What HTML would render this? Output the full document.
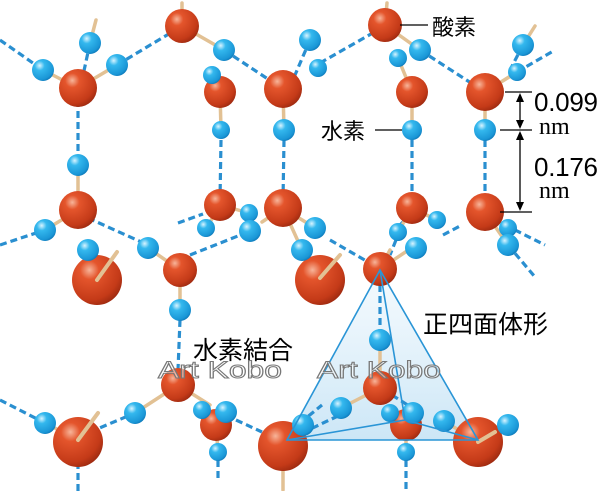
<!DOCTYPE html>
<html><head><meta charset="utf-8"><style>
html,body{margin:0;padding:0;background:#fff;}
svg{display:block;}
text{font-family:"Liberation Sans","Noto Sans CJK JP",sans-serif;}
</style></head><body>
<svg width="600" height="491" viewBox="0 0 600 491" xmlns="http://www.w3.org/2000/svg">
<defs>
<radialGradient id="r" cx="0.35" cy="0.3" r="0.75">
<stop offset="0" stop-color="#f7b59a"/><stop offset="0.25" stop-color="#e4552c"/><stop offset="0.8" stop-color="#c43a18"/><stop offset="1" stop-color="#9e2a10"/>
</radialGradient>
<radialGradient id="b" cx="0.35" cy="0.3" r="0.75">
<stop offset="0" stop-color="#d8f4ff"/><stop offset="0.3" stop-color="#34b8ee"/><stop offset="0.85" stop-color="#1a96d6"/><stop offset="1" stop-color="#0d78b8"/>
</radialGradient>
<linearGradient id="t" x1="0" y1="0" x2="0" y2="1">
<stop offset="0" stop-color="#eef7fd" stop-opacity="0.6"/><stop offset="1" stop-color="#bfe0f4" stop-opacity="0.8"/>
</linearGradient>
</defs>

<polygon points="380,270 287,440 478,440" fill="url(#t)"/>

<g stroke="#2a8fd0" stroke-width="3.2" stroke-dasharray="7,4" fill="none">
<path d="M0,40 L43,70"/>
<path d="M117,65 L182,26"/>
<path d="M224,50 L283,89"/>
<path d="M90,43 L82,80"/>
<path d="M78,100 L78,165"/>
<path d="M221,140 L220,200"/>
<path d="M284,140 L283,200"/>
<path d="M412,140 L412,200"/>
<path d="M485,140 L485,205"/>
<path d="M320,63 L378,30"/>
<path d="M420,50 L485,92"/>
<path d="M517,72 L555,50"/>
<path d="M523,45 L510,70"/>
<path d="M310,40 L295,75"/>
<path d="M0,245 L45,230"/>
<path d="M88,218 L148,245"/>
<path d="M178,223 L203,214"/>
<path d="M190,255 L248,232"/>
<path d="M330,240 L368,262"/>
<path d="M443,235 L460,226"/>
<path d="M495,220 L545,245"/>
<path d="M400,230 L390,255"/>
<path d="M420,205 L400,225"/>
<path d="M508,245 L535,277"/>
<path d="M180,320 L178,370"/>
<path d="M0,400 L45,423"/>
<path d="M90,432 L135,413"/>
<path d="M236,420 L262,432"/>
<path d="M218,460 L218,478"/>
<path d="M78,462 L78,491"/>
<path d="M406,460 L406,491"/>
<path d="M380,285 L380,330"/>
<path d="M300,423 L322,405"/>
<path d="M302,433 L340,415"/>
<path d="M392,395 L420,413"/>
</g>

<g stroke="#e2c194" stroke-width="3.5" stroke-linecap="round">
<path d="M90,43 L96,20"/><path d="M78,88 L43,70"/><path d="M78,88 L117,65"/>
<path d="M182,26 L224,50"/><path d="M182,26 L182,3"/><path d="M220,92 L212,75"/><path d="M220,92 L221,130"/>
<path d="M283,89 L284,130"/>
<path d="M385,25 L420,50"/><path d="M385,25 L387,3"/><path d="M412,92 L398,58"/><path d="M412,92 L412,130"/>
<path d="M485,92 L517,72"/><path d="M523,45 L535,26"/><path d="M485,92 L485,130"/>
<path d="M78,210 L78,165"/><path d="M78,210 L45,230"/><path d="M220,205 L206,229"/><path d="M220,205 L249,213"/>
<path d="M283,208 L315,228"/><path d="M283,208 L302,250"/><path d="M283,208 L262,222"/>
<path d="M412,208 L398,232"/><path d="M412,208 L437,220"/>
<path d="M485,212 L508,228"/><path d="M485,212 L508,245"/>
<path d="M180,270 L148,248"/><path d="M180,270 L180,310"/>
<path d="M380,269 L416,245"/><path d="M380,269 L390,250"/>
<path d="M78,440 L45,423"/>
<path d="M178,385 L135,413"/><path d="M178,385 L210,405"/><path d="M216,425 L226,412"/><path d="M216,425 L218,452"/>
<path d="M283,448 L283,490"/>
<path d="M380,388 L380,340"/><path d="M380,388 L341,408"/>
<path d="M406,425 L390,413"/><path d="M406,425 L413,413"/><path d="M406,425 L406,452"/>
<path d="M478,442 L508,425"/><path d="M478,442 L444,421"/>
</g>

<g fill="url(#r)">
<circle cx="182" cy="26" r="17"/><circle cx="78" cy="88" r="19"/><circle cx="220" cy="92" r="16"/><circle cx="283" cy="89" r="19"/>
<circle cx="78" cy="210" r="19"/><circle cx="220" cy="205" r="16"/><circle cx="283" cy="208" r="19"/>
<circle cx="385" cy="25" r="17"/><circle cx="412" cy="92" r="16"/><circle cx="485" cy="92" r="19"/>
<circle cx="412" cy="208" r="16"/><circle cx="485" cy="212" r="19"/>
<circle cx="97" cy="280" r="25"/><circle cx="180" cy="270" r="17"/><circle cx="320" cy="280" r="25"/><circle cx="380" cy="269" r="17"/>
<circle cx="78" cy="442" r="25"/><circle cx="178" cy="385" r="17"/><circle cx="216" cy="425" r="16"/>
<circle cx="283" cy="446" r="25"/><circle cx="380" cy="388" r="17"/><circle cx="406" cy="425" r="16"/><circle cx="478" cy="442" r="25"/>
</g>
<g stroke="#e2c194" stroke-width="4" stroke-linecap="round">
<path d="M97,280 L117,252"/><path d="M320,278 L340,255"/><path d="M78,440 L98,413"/><path d="M478,442 L495,432"/>
</g>

<g fill="url(#b)">
<circle cx="90" cy="43" r="11"/><circle cx="43" cy="70" r="11"/><circle cx="117" cy="65" r="11"/>
<circle cx="224" cy="50" r="11"/><circle cx="212" cy="75" r="9"/><circle cx="221" cy="130" r="9"/><circle cx="284" cy="130" r="11"/>
<circle cx="310" cy="40" r="11"/><circle cx="318" cy="68" r="9"/><circle cx="398" cy="58" r="9"/><circle cx="420" cy="50" r="11"/>
<circle cx="523" cy="45" r="11"/><circle cx="517" cy="72" r="9"/><circle cx="412" cy="130" r="10"/><circle cx="485" cy="130" r="11"/>
<circle cx="78" cy="165" r="11"/><circle cx="45" cy="230" r="11"/><circle cx="88" cy="250" r="11"/><circle cx="148" cy="248" r="11"/>
<circle cx="206" cy="228" r="9"/><circle cx="249" cy="213" r="9"/><circle cx="250" cy="231" r="11"/>
<circle cx="315" cy="228" r="11"/><circle cx="302" cy="250" r="11"/>
<circle cx="398" cy="232" r="9"/><circle cx="416" cy="248" r="11"/><circle cx="437" cy="220" r="9"/>
<circle cx="508" cy="228" r="9"/><circle cx="508" cy="245" r="11"/>
<circle cx="180" cy="310" r="11"/>
<circle cx="45" cy="423" r="11"/><circle cx="135" cy="413" r="11"/><circle cx="202" cy="410" r="9"/><circle cx="226" cy="412" r="11"/><circle cx="218" cy="452" r="9"/>
<circle cx="380" cy="340" r="11"/><circle cx="341" cy="408" r="11"/><circle cx="390" cy="413" r="9"/><circle cx="413" cy="413" r="11"/>
<circle cx="444" cy="421" r="11"/><circle cx="508" cy="425" r="11"/><circle cx="406" cy="452" r="9"/><circle cx="303" cy="425" r="11"/>
</g>

<g stroke="#2a95d6" stroke-width="1.6" fill="none">
<polygon points="380,270 287,440 478,440"/>
<path d="M380,270 L405,420 L287,440 M405,420 L478,440"/>
</g>

<g stroke="#000" stroke-width="1.3">
<path d="M400,25 L428,25"/><path d="M375,130 L402,130"/>
<path d="M505,92 L532,92"/><path d="M500,130 L532,130"/><path d="M500,212 L532,212"/>
<path d="M520,96 L520,126"/><path d="M520,134 L520,208"/>
</g>
<g fill="#000">
<polygon points="520,93 516,102 524,102"/><polygon points="520,129 516,120 524,120"/>
<polygon points="520,131 516,140 524,140"/><polygon points="520,211 516,202 524,202"/>
</g>
<text x="432" y="35" font-size="22">酸素</text>
<text x="321" y="139" font-size="22">水素</text>
<text x="534" y="111" font-size="26" textLength="64">0.099</text>
<text x="539" y="134" font-size="24" style="font-family:'Liberation Serif',serif">nm</text>
<text x="534" y="176" font-size="26" textLength="64">0.176</text>
<text x="539" y="198" font-size="24" style="font-family:'Liberation Serif',serif">nm</text>
<text x="193" y="359" font-size="25">水素結合</text>
<text x="423" y="333" font-size="25">正四面体形</text>
<g fill="#fff" fill-opacity="0.5" stroke="#777" stroke-width="1" font-size="24">
<text x="158" y="378" textLength="124" lengthAdjust="spacingAndGlyphs">Art Kobo</text>
<text x="317" y="378" textLength="124" lengthAdjust="spacingAndGlyphs">Art Kobo</text>
</g>
</svg>
</body></html>
